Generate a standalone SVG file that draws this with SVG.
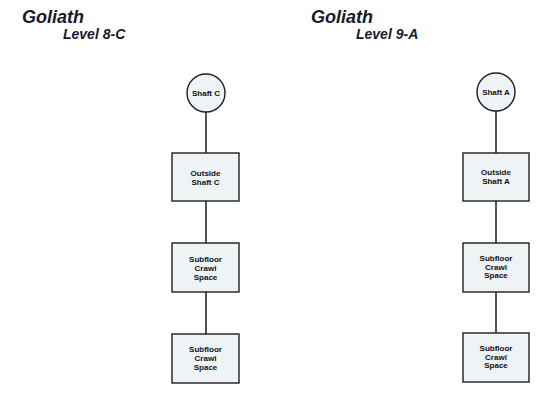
<svg xmlns="http://www.w3.org/2000/svg" width="550" height="406" viewBox="0 0 550 406">
<style>
.title{font-family:"Liberation Sans",Arial,sans-serif;font-weight:bold;font-style:italic;fill:#141a2a}
.node{fill:#eef3f6;stroke:#1e1e1e;stroke-width:1.4}
.lbl{font-family:"Liberation Sans",Arial,sans-serif;font-weight:bold;font-size:8px;fill:#111;text-anchor:middle}
.conn line{stroke:#1a1a1a;stroke-width:1.5}
</style>
<rect width="550" height="406" fill="#ffffff"/>
<text class="title" x="22" y="23" font-size="18">Goliath</text>
<text class="title" x="63" y="39" font-size="14">Level 8-C</text>
<text class="title" x="311" y="23" font-size="18">Goliath</text>
<text class="title" x="356" y="39" font-size="14">Level 9-A</text>
<g id="connectors" class="conn">
<line x1="206" y1="112" x2="206" y2="153"/>
<line x1="206" y1="201" x2="206" y2="243"/>
<line x1="206" y1="292" x2="206" y2="334"/>
<line x1="496" y1="111" x2="496" y2="153"/>
<line x1="496" y1="201" x2="496" y2="243"/>
<line x1="496" y1="292" x2="496" y2="333"/>
</g>
<g id="shaftC">
<circle class="node" cx="206" cy="93" r="19"/>
<text class="lbl" x="206" y="95.5">Shaft C</text>
</g>
<g id="outsideShaftC">
<rect class="node" x="172" y="153" width="67" height="48"/>
<text class="lbl" x="205.5" y="175.5">Outside</text>
<text class="lbl" x="205.5" y="185">Shaft C</text>
</g>
<g id="subfloorC1">
<rect class="node" x="172" y="243" width="67" height="49"/>
<text class="lbl" x="205.5" y="262">Subfloor</text>
<text class="lbl" x="205.5" y="271">Crawl</text>
<text class="lbl" x="205.5" y="280">Space</text>
</g>
<g id="subfloorC2">
<rect class="node" x="172" y="334" width="67" height="49"/>
<text class="lbl" x="205.5" y="351.5">Subfloor</text>
<text class="lbl" x="205.5" y="360.5">Crawl</text>
<text class="lbl" x="205.5" y="369.5">Space</text>
</g>
<g id="shaftA">
<circle class="node" cx="496" cy="92" r="19"/>
<text class="lbl" x="496" y="94.5">Shaft A</text>
</g>
<g id="outsideShaftA">
<rect class="node" x="463" y="153" width="66" height="48"/>
<text class="lbl" x="496" y="174.5">Outside</text>
<text class="lbl" x="496" y="184">Shaft A</text>
</g>
<g id="subfloorA1">
<rect class="node" x="463" y="243" width="66" height="49"/>
<text class="lbl" x="496" y="260.5">Subfloor</text>
<text class="lbl" x="496" y="269.5">Crawl</text>
<text class="lbl" x="496" y="278">Space</text>
</g>
<g id="subfloorA2">
<rect class="node" x="463" y="333" width="66" height="49"/>
<text class="lbl" x="496" y="350.5">Subfloor</text>
<text class="lbl" x="496" y="359.5">Crawl</text>
<text class="lbl" x="496" y="368">Space</text>
</g>
</svg>
